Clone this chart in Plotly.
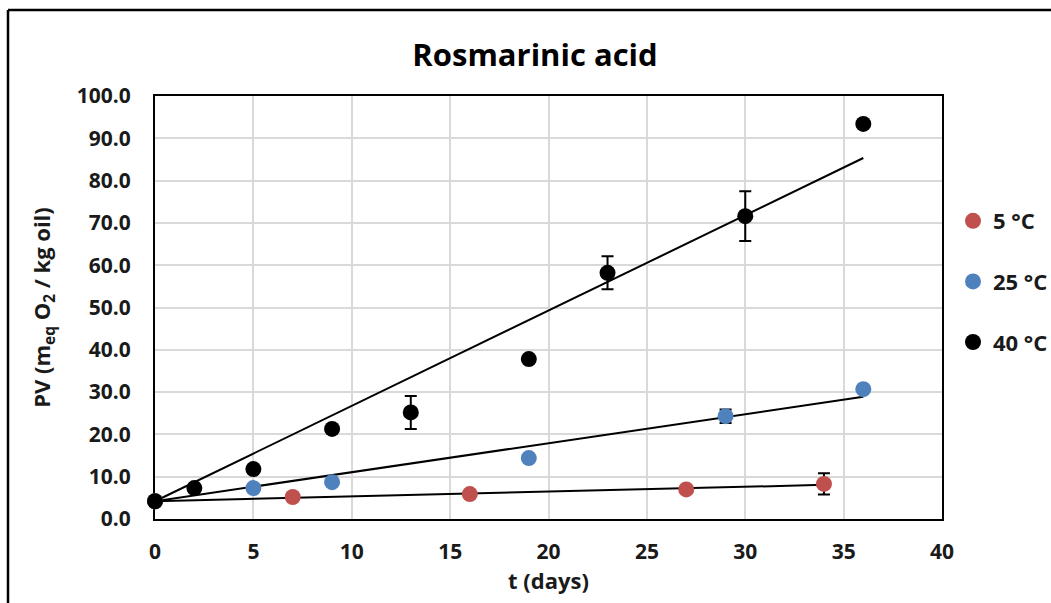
import numpy as np
import plotly.graph_objects as go

# Peroxide value (PV) over storage time, three storage temperatures
labels = ["5 °C", "25 °C", "40 °C"]
colors = ["#C0504D", "#4F81BD", "#000000"]

t_5 = [0, 7, 16, 27, 34]
pv_5 = [4.2, 5.2, 5.9, 7.0, 8.3]
err_5 = [0, 0, 0, 0, 2.5]

t_25 = [0, 5, 9, 19, 29, 36]
pv_25 = [4.2, 7.3, 8.7, 14.4, 24.3, 30.7]
err_25 = [0, 0, 0, 0, 1.6, 0]

t_40 = [0, 2, 5, 9, 13, 19, 23, 30, 36]
pv_40 = [4.2, 7.3, 11.8, 21.3, 25.2, 37.8, 58.2, 71.6, 93.4]
err_40 = [0, 0, 0, 0, 3.9, 0, 3.9, 5.9, 0]

x_ticks = [0, 5, 10, 15, 20, 25, 30, 35, 40]
y_ticks = [0, 10, 20, 30, 40, 50, 60, 70, 80, 90, 100]

series = [(t_5, pv_5, err_5), (t_25, pv_25, err_25), (t_40, pv_40, err_40)]

FONT = "Open Sans"
TEXT = "#1a1a1a"

fig = go.Figure()

# linear trend lines with the intercept fixed at the initial PV
for (t, pv, _), color in zip(series, colors):
    t_arr = np.array(t, dtype=float)
    pv_arr = np.array(pv, dtype=float)
    y0 = pv_arr[0]
    slope = np.sum(t_arr * (pv_arr - y0)) / np.sum(t_arr ** 2)
    tx = np.array([0.0, t_arr.max()])
    fig.add_trace(go.Scatter(
        x=tx, y=y0 + slope * tx, mode="lines",
        line=dict(color="black", width=2),
        showlegend=False, hoverinfo="skip", cliponaxis=False,
    ))

# measured points with error bars
for (t, pv, err), name, color in zip(series, labels, colors):
    fig.add_trace(go.Scatter(
        x=t, y=pv, mode="markers", name=name,
        legendgroup=name,
        marker=dict(color=color, size=16, line=dict(width=0)),
        error_y=dict(type="data", array=err, visible=True,
                     color="black", thickness=2, width=6),
        cliponaxis=False,
    ))

axis_common = dict(
    showline=True, linecolor="black", linewidth=2, mirror=True,
    showgrid=True, gridcolor="#D9D9D9", gridwidth=2,
    zeroline=False, ticks="", layer="below traces",
    tickfont=dict(family=FONT, size=21, color=TEXT, weight="bold"),
)

# plot area spans x 155..942 px, y 96..519 px
L, R, T, B = 155, 942, 96, 519
W, H = R - L, B - T

fig.update_layout(
    width=1051, height=603,
    paper_bgcolor="white", plot_bgcolor="white",
    margin=dict(l=L, r=1051 - R, t=T, b=603 - B, autoexpand=False),
    font=dict(family=FONT, color=TEXT, weight="bold"),
    title=dict(
        text="Rosmarinic acid",
        x=535 / 1051, xanchor="center",
        y=1 - 55 / 603, yanchor="middle",
        xref="container", yref="container",
        font=dict(family=FONT, size=31, color="black", weight="bold"),
    ),
    xaxis=dict(
        range=[0, 40], tickvals=x_ticks,
        ticklabelstandoff=13,
        title=dict(text="t (days)", standoff=2,
                   font=dict(family=FONT, size=22, color=TEXT, weight="bold")),
        **axis_common,
    ),
    yaxis=dict(
        range=[0, 100], tickvals=y_ticks, tickformat=".1f",
        ticklabelstandoff=18,
        title=dict(text="PV (m<sub>eq</sub> O<sub>2</sub> / kg oil)", standoff=20,
                   font=dict(family=FONT, size=22, color=TEXT, weight="bold")),
        **axis_common,
    ),
    legend=dict(
        x=(953 - L) / W, xanchor="left",
        y=(B - 200) / H, yanchor="top",
        font=dict(family=FONT, size=22, color=TEXT, weight="bold"),
        tracegroupgap=29, traceorder="grouped",
        bgcolor="rgba(0,0,0,0)", borderwidth=0,
    ),
    shapes=[
        # chart frame (left and top edges)
        dict(type="line", xref="paper", yref="paper",
             x0=(8 - L) / W, x1=(8 - L) / W,
             y0=(B - 10) / H, y1=(B - 610) / H,
             line=dict(color="black", width=2.5)),
        dict(type="line", xref="paper", yref="paper",
             x0=(8 - L) / W, x1=(1060 - L) / W,
             y0=(B - 10) / H, y1=(B - 10) / H,
             line=dict(color="black", width=2.5)),
    ],
)

fig.write_html("out.html")
